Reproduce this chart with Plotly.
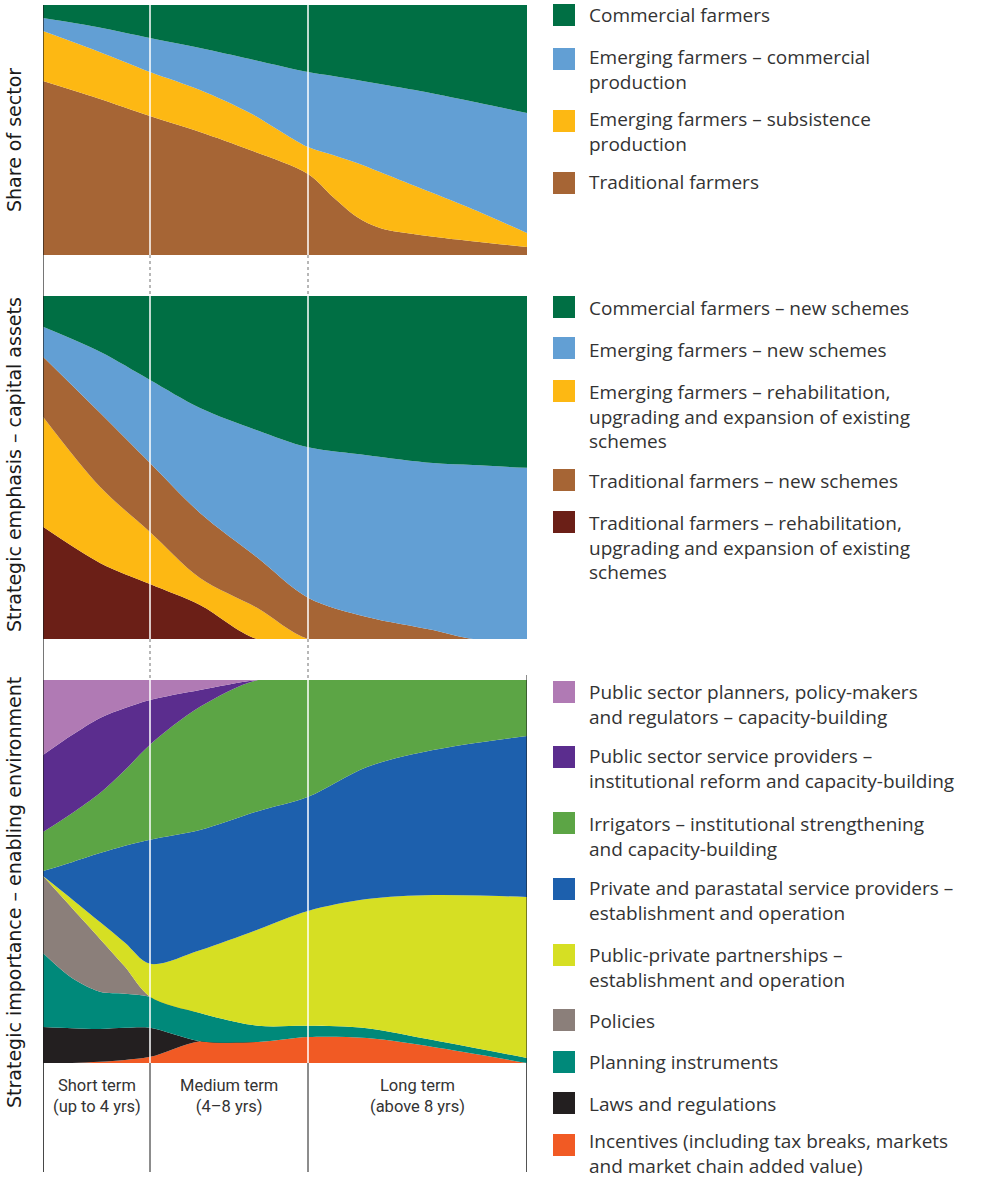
import plotly.graph_objects as go

W, H = 985, 1180

# ---------------- data ----------------
# time axis: arbitrary planning-horizon units; period edges (short | medium | long)
period_edges = [0, 107, 265, 484]
period_labels = [["Short term", "(up to 4 yrs)"], ["Medium term", "(4–8 yrs)"], ["Long term", "(above 8 yrs)"]]

# Panel 1 – share of sector (%)
x1 = [0, 54, 107, 157, 207, 265, 290, 314, 337, 377, 427, 484]
traditional = [69.6, 62.8, 55.6, 49.2, 42.0, 32.4, 23.2, 15.2, 10.8, 8.0, 5.6, 3.2]
emerging_subs = [20.0, 18.8, 17.6, 16.8, 14.8, 10.8, 16.8, 21.6, 22.4, 18.8, 13.2, 5.6]
emerging_comm = [5.2, 9.6, 13.6, 16.8, 21.6, 30.0, 31.6, 33.2, 35.2, 38.8, 42.8, 48.0]
commercial = [5.2, 8.8, 13.2, 17.2, 21.6, 26.8, 28.4, 30.0, 31.6, 34.4, 38.4, 43.2]

# Panel 2 – strategic emphasis, capital assets (%)
x2 = [0, 57, 107, 157, 214, 265, 324, 390, 430, 484]
trad_rehab = [32.7, 22.2, 16.0, 9.9, 0, 0, 0, 0, 0, 0]
emerg_rehab = [32.1, 22.2, 15.2, 7.9, 9.0, 0, 0, 0, 0, 0]
trad_new = [17.5, 21.6, 20.1, 19.0, 14.6, 12.0, 6.4, 2.6, 0, 0]
emerg_new = [8.7, 17.8, 24.2, 30.6, 36.7, 43.7, 47.2, 48.7, 50.7, 49.9]
comm_new = [9.0, 16.3, 24.5, 32.7, 38.8, 44.0, 46.4, 48.7, 49.3, 50.1]

# Panel 3 – strategic importance, enabling environment (%)
x3 = [0, 29, 57, 82, 107, 157, 215, 265, 324, 390, 484]
incentives = [0, 0, 0.3, 0.8, 1.6, 5.7, 5.5, 6.8, 6.5, 4.2, 0]
laws = [9.4, 9.1, 8.6, 8.4, 7.6, 0, 0, 0, 0, 0, 0]
planning = [19.3, 13.1, 9.7, 8.9, 8.1, 7.3, 4.2, 2.9, 2.6, 1.8, 1.3]
policies = [20.1, 18.3, 13.8, 7.0, 0, 0, 0, 0, 0, 0, 0]
ppp = [0, 2.3, 4.4, 6.3, 8.6, 16.4, 25.1, 30.0, 33.7, 37.9, 42.0]
private = [1.3, 9.7, 18.0, 25.3, 32.4, 31.3, 30.8, 29.8, 34.5, 37.9, 42.0]
irrigators = [10.2, 12.8, 15.7, 19.8, 24.8, 32.1, 34.2, 30.5, 22.7, 18.3, 14.6]
public_service = [20.1, 20.4, 19.6, 16.2, 11.7, 4.4, 0, 0, 0, 0, 0]
public_planners = [19.6, 14.4, 9.9, 7.3, 5.2, 2.6, 0, 0, 0, 0, 0]

# colours
C_COMM = "#006F44"
C_LBLUE = "#629FD4"
C_YEL = "#FDB813"
C_BROWN = "#A66535"
C_DRED = "#6B1F17"
C_LAV = "#B07AB4"
C_PURP = "#5B2D8E"
C_GREEN = "#5CA545"
C_BLUE = "#1D60AD"
C_YG = "#D6DF23"
C_GRAY = "#8B7F7A"
C_TEAL = "#00897A"
C_BLACK = "#231F20"
C_ORANGE = "#F15A24"

panel1 = [  # bottom to top
    ("Traditional farmers", traditional, C_BROWN),
    ("Emerging farmers – subsistence production", emerging_subs, C_YEL),
    ("Emerging farmers – commercial production", emerging_comm, C_LBLUE),
    ("Commercial farmers", commercial, C_COMM),
]
panel2 = [
    ("Traditional farmers – rehabilitation, upgrading and expansion of existing schemes", trad_rehab, C_DRED),
    ("Emerging farmers – rehabilitation, upgrading and expansion of existing schemes", emerg_rehab, C_YEL),
    ("Traditional farmers – new schemes", trad_new, C_BROWN),
    ("Emerging farmers – new schemes", emerg_new, C_LBLUE),
    ("Commercial farmers – new schemes", comm_new, C_COMM),
]
panel3 = [
    ("Incentives", incentives, C_ORANGE),
    ("Laws and regulations", laws, C_BLACK),
    ("Planning instruments", planning, C_TEAL),
    ("Policies", policies, C_GRAY),
    ("Public-private partnerships", ppp, C_YG),
    ("Private and parastatal service providers", private, C_BLUE),
    ("Irrigators", irrigators, C_GREEN),
    ("Public sector service providers", public_service, C_PURP),
    ("Public sector planners", public_planners, C_LAV),
]

# legend entries: (colour, square top px, lines, first-line centre px)
legend_items = [
    (C_COMM, 4, ["Commercial farmers"], 15),
    (C_LBLUE, 48, ["Emerging farmers – commercial", "production"], 57),
    (C_YEL, 110, ["Emerging farmers – subsistence", "production"], 119),
    (C_BROWN, 172, ["Traditional farmers"], 182),
    (C_COMM, 296, ["Commercial farmers – new schemes"], 308),
    (C_LBLUE, 337, ["Emerging farmers – new schemes"], 350),
    (C_YEL, 380, ["Emerging farmers – rehabilitation,", "upgrading and expansion of existing", "schemes"], 392),
    (C_BROWN, 469, ["Traditional farmers – new schemes"], 481),
    (C_DRED, 511, ["Traditional farmers – rehabilitation,", "upgrading and expansion of existing", "schemes"], 523),
    (C_LAV, 681, ["Public sector planners, policy-makers", "and regulators – capacity-building"], 692),
    (C_PURP, 746, ["Public sector service providers –", "institutional reform and capacity-building"], 756),
    (C_GREEN, 812, ["Irrigators – institutional strengthening", "and capacity-building"], 824),
    (C_BLUE, 878, ["Private and parastatal service providers –", "establishment and operation"], 888),
    (C_YG, 944, ["Public-private partnerships –", "establishment and operation"], 955),
    (C_GRAY, 1009, ["Policies"], 1021),
    (C_TEAL, 1051, ["Planning instruments"], 1062),
    (C_BLACK, 1092, ["Laws and regulations"], 1104),
    (C_ORANGE, 1134, ["Incentives (including tax breaks, markets", "and market chain added value)"], 1141),
]

y_titles = [("Share of sector", 140), ("Strategic emphasis – capital assets", 465), ("Strategic importance – enabling environment", 893)]

# ---------------- layout helpers ----------------
def py(v):
    return 1 - v / H

def pxx(v):
    return v / W

X_DOM = [pxx(43), pxx(527)]
panels_px = [(5, 255), (296, 639), (680, 1063)]
BOTTOM = 1172

fig = go.Figure()
for i, (xs, series) in enumerate([(x1, panel1), (x2, panel2), (x3, panel3)]):
    ax = "" if i == 0 else str(i + 1)
    for name, vals, col in series:
        fig.add_trace(go.Scatter(
            x=xs, y=vals, name=name, mode="lines",
            stackgroup="p%d" % i, groupnorm="percent",
            line=dict(width=0, shape="spline", smoothing=0.9, color=col),
            fillcolor=col, xaxis="x" + ax, yaxis="y" + ax,
            hoverinfo="name",
        ))

layout = dict(
    width=W, height=H, margin=dict(l=0, r=0, t=0, b=0),
    paper_bgcolor="white", plot_bgcolor="white", showlegend=False,
)
for i, (top, bot) in enumerate(panels_px):
    ax = "" if i == 0 else str(i + 1)
    layout["xaxis" + ax] = dict(domain=X_DOM, range=[period_edges[0], period_edges[-1]],
                                visible=False, fixedrange=True,
                                anchor="y" + ax)
    layout["yaxis" + ax] = dict(domain=[py(bot), py(top)], range=[0, 100],
                                visible=False, fixedrange=True,
                                anchor="x" + ax)
fig.update_layout(**layout)

shapes = []
# white period separators inside panels
for i in range(3):
    ax = "" if i == 0 else str(i + 1)
    for e in period_edges[1:-1]:
        shapes.append(dict(type="line", xref="x" + ax, yref="y%s domain" % ax,
                           x0=e, x1=e, y0=0, y1=1, line=dict(color="white", width=1.5)))
# dashed separators in gaps
for (a, b) in [(panels_px[0][1], panels_px[1][0]), (panels_px[1][1], panels_px[2][0])]:
    for e in period_edges[1:-1]:
        shapes.append(dict(type="line", xref="x", yref="paper", x0=e, x1=e,
                           y0=py(a), y1=py(b), line=dict(color="#707070", width=1, dash="3px,3px")))
# black lines in the time-label strip
for e in period_edges:
    shapes.append(dict(type="line", xref="x3", yref="paper", x0=e, x1=e,
                       y0=py(panels_px[2][1]), y1=py(BOTTOM), line=dict(color="#1a1a1a", width=1)))
# left axis line and right edge line
shapes.append(dict(type="line", xref="x", yref="paper", x0=period_edges[0], x1=period_edges[0],
                   y0=py(panels_px[0][0]), y1=py(BOTTOM), line=dict(color="#1a1a1a", width=1.2)))
shapes.append(dict(type="line", xref="x3", yref="paper", x0=period_edges[-1], x1=period_edges[-1],
                   y0=py(675), y1=py(BOTTOM), line=dict(color="#1a1a1a", width=1)))

annotations = []
LEG_SIZE = 19
LINE_H = 1.3 * LEG_SIZE
LEG_FONT = dict(family="Open Sans", size=LEG_SIZE, color="#333333")
for col, sq_top, lines, y_first in legend_items:
    shapes.append(dict(type="rect", xref="paper", yref="paper",
                       x0=pxx(553), x1=pxx(575), y0=py(sq_top + 22), y1=py(sq_top),
                       fillcolor=col, line=dict(width=0)))
    yc = y_first + (len(lines) - 1) * LINE_H / 2
    annotations.append(dict(text="<br>".join(lines), xref="paper", yref="paper", x=pxx(588), y=py(yc),
                            xanchor="left", yanchor="middle", align="left", showarrow=False,
                            borderpad=0, font=LEG_FONT))

for txt, yc in y_titles:
    annotations.append(dict(text=txt, xref="paper", yref="paper", x=pxx(14), y=py(yc),
                            xanchor="center", yanchor="middle", textangle=-90, showarrow=False,
                            font=dict(family="DejaVu Sans", size=19, color="#1a1a1a")))

for k, (l1, l2) in enumerate(period_labels):
    xm = (period_edges[k] + period_edges[k + 1]) / 2
    annotations.append(dict(text=l1 + "<br>" + l2, xref="x3", yref="paper", x=xm, y=py(1096),
                            xanchor="center", yanchor="middle", align="center", showarrow=False,
                            borderpad=0, font=dict(family="Roboto", size=16.5, color="#333333")))

fig.update_layout(shapes=shapes, annotations=annotations)
fig.write_html("out.html", config={"displayModeBar": False},
               post_script="document.body.style.margin='0';document.body.style.padding='0';")
